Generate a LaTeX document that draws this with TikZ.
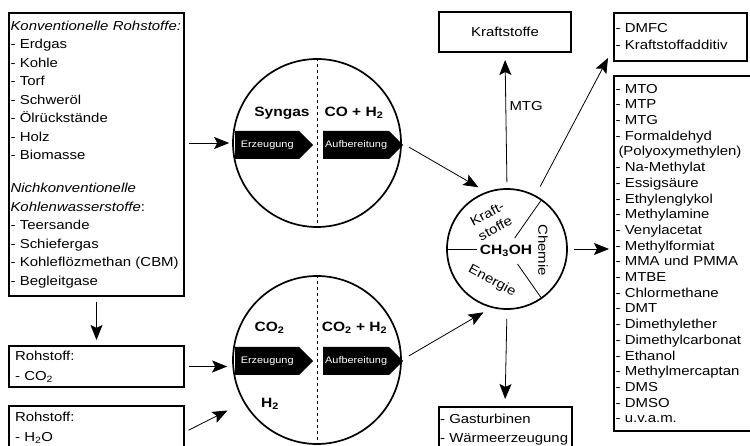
\documentclass[tikz,border=0pt]{standalone}
\usepackage{fontspec}
\setmainfont[FakeStretch=1.15]{Liberation Sans}
\usetikzlibrary{arrows.meta}
\usetikzlibrary{shapes.symbols}
\usetikzlibrary{calc}

\tikzset{
	kasten/.style={draw, line width=2pt, inner xsep=1.5pt, align=left},
	kreis/.style={circle, draw, line width=1.7pt, minimum size=168pt, inner sep=0pt},
	schritt/.style={signal, signal to=east, signal pointer angle=90, fill=black, text=white, font=\fontsize{9.5}{11}\selectfont, minimum height=28pt, inner xsep=2pt, anchor=west},
	pfeil/.style={-{Stealth[length=15pt,width=12pt,inset=3pt]}, line width=0.8pt},
	titel/.style={font=\fontsize{13.5}{16}\selectfont\bfseries},
	normal/.style={font=\fontsize{13}{17}\selectfont}
}

\begin{document}
\begin{tikzpicture}[x=1pt, y=-1pt]
				\useasboundingbox (0,0) rectangle (750,446);
				
				\node[kasten, text width=172pt, minimum height=283pt, font=\fontsize{13}{18.5}\selectfont] (rohstoffe) at (96.5,154.5) {\textit{Konventionelle Rohstoffe:}\\- Erdgas\\- Kohle\\- Torf\\- Schweröl\\- Ölrückstände\\- Holz\\- Biomasse\\[14.5pt]\textit{Nichkonventionelle}\\\textit{Kohlenwasserstoffe}:\\- Teersande\\- Schiefergas\\- Kohleflözmethan (CBM)\\- Begleitgase};
				\node[kasten, inner xsep=6pt, text width=163pt, minimum height=41pt, font=\fontsize{13}{20}\selectfont] (co2box) at (96.5,366.5) {Rohstoff:\\- CO\textsubscript{2}};
				\node[kasten, inner xsep=6pt, text width=163pt, minimum height=44pt, font=\fontsize{13}{20}\selectfont] (h2obox) at (96.5,428) {Rohstoff:\\- H\textsubscript{2}O};
				
				\node[kreis] (synkreis) at (317,143) {};
				\draw[dashed, line width=0.8pt] (synkreis.north) -- (synkreis.south);
				\node[titel] (syngas) at (282,113) {Syngas};
				\node[titel] (coh2) at (354,113) {CO + H\textsubscript{2}};
				\node[schritt, minimum width=78pt] (erz1) at (235,145) {Erzeugung};
				\node[schritt, minimum width=77pt] (auf1) at (323,145) {Aufbereitung};
				
				\node[kreis] (co2kreis) at (317,360) {};
				\draw[dashed, line width=0.8pt] (co2kreis.north) -- (co2kreis.south);
				\node[titel] (co2) at (269.5,328) {CO\textsubscript{2}};
				\node[titel] (co2h2) at (354.5,328) {CO\textsubscript{2} + H\textsubscript{2}};
				\node[titel] (h2) at (270,404) {H\textsubscript{2}};
				\node[schritt, minimum width=78pt] (erz2) at (235,361) {Erzeugung};
				\node[schritt, minimum width=77pt] (auf2) at (323,361) {Aufbereitung};
				
				\node[circle, draw, line width=1.7pt, minimum size=120pt] (meoh) at (507,249) {};
				\node[titel, inner sep=0pt] (ch3oh) at (506,251) {CH\textsubscript{3}OH};
				\draw[line width=0.8pt] (meoh.west) -- ($(meoh.center)!0.5!(meoh.west)$);
				\draw[line width=0.8pt] ($(meoh.center)!0.22!(meoh.55)$) -- (meoh.55);
				\draw[line width=0.8pt] ($(meoh.center)!0.3!(meoh.-55)$) -- (meoh.-55);
				\node[normal, rotate=28, align=center, inner sep=0pt] (kraftlabel) at (491,221) {Kraft-\\stoffe};
				\node[normal, rotate=-90, inner sep=0pt] (chemlabel) at (543,250) {Chemie};
				\node[normal, rotate=-28, inner sep=0pt] (energielabel) at (492,281) {Energie};
				
				\node[kasten, align=center, minimum width=132pt, minimum height=40pt, normal] (kraftstoffe) at (505,32) {Kraftstoffe};
				\node[kasten, text width=130pt, minimum height=48pt, normal] (dmfc) at (680.5,37) {- DMFC\\- Kraftstoffadditiv};
				\node[kasten, text width=134pt, minimum height=355pt, font=\fontsize{13}{15.7}\selectfont] (chemliste) at (682.5,253.5) {- MTO\\- MTP\\- MTG\\- Formaldehyd\\\hspace*{3pt}(Polyoxymethylen)\\- Na-Methylat\\- Essigsäure\\- Ethylenglykol\\- Methylamine\\- Venylacetat\\- Methylformiat\\- MMA und PMMA\\- MTBE\\- Chlormethane\\- DMT\\- Dimethylether\\- Dimethylcarbonat\\- Ethanol\\- Methylmercaptan\\- DMS\\- DMSO\\- u.v.a.m.};
				\node[kasten, text width=130pt, anchor=north, inner ysep=7pt, font=\fontsize{13}{19}\selectfont] (gasturb) at (505,406) {- Gasturbinen\\- Wärmeerzeugung};
				
				\draw[pfeil, shorten <=4pt, shorten >=3pt] (rohstoffe.east |- synkreis.west) -- (synkreis.west);
				\draw[pfeil, shorten <=5pt, shorten >=5pt] (rohstoffe.south) -- (co2box.north);
				\draw[pfeil, shorten <=4pt, shorten >=5pt] (co2box.east) -- (co2box.east -| co2kreis.west);
				\draw[pfeil, shorten <=4pt, shorten >=18pt] ([yshift=-4pt]h2obox.east) -- (co2kreis.210);
				\draw[pfeil, shorten <=8pt, shorten >=9pt] (synkreis.east) -- (meoh.110);
				\draw[pfeil, shorten <=8pt, shorten >=9pt] (co2kreis.east) -- (meoh.-105);
				\draw[pfeil, shorten <=6pt, shorten >=7pt] (meoh.north) -- node[pos=0.61, right, normal] (mtg) {MTG} (kraftstoffe.south);
				\draw[pfeil, shorten <=10pt] (meoh.62) -- ([xshift=-5pt,yshift=4pt]dmfc.south west);
				\draw[pfeil, shorten <=6pt, shorten >=4pt] (meoh.east) -- (meoh.east -| chemliste.west);
				\draw[pfeil, shorten <=9pt, shorten >=7pt] (meoh.south) -- (gasturb.north);
				
\end{tikzpicture}
\end{document}
